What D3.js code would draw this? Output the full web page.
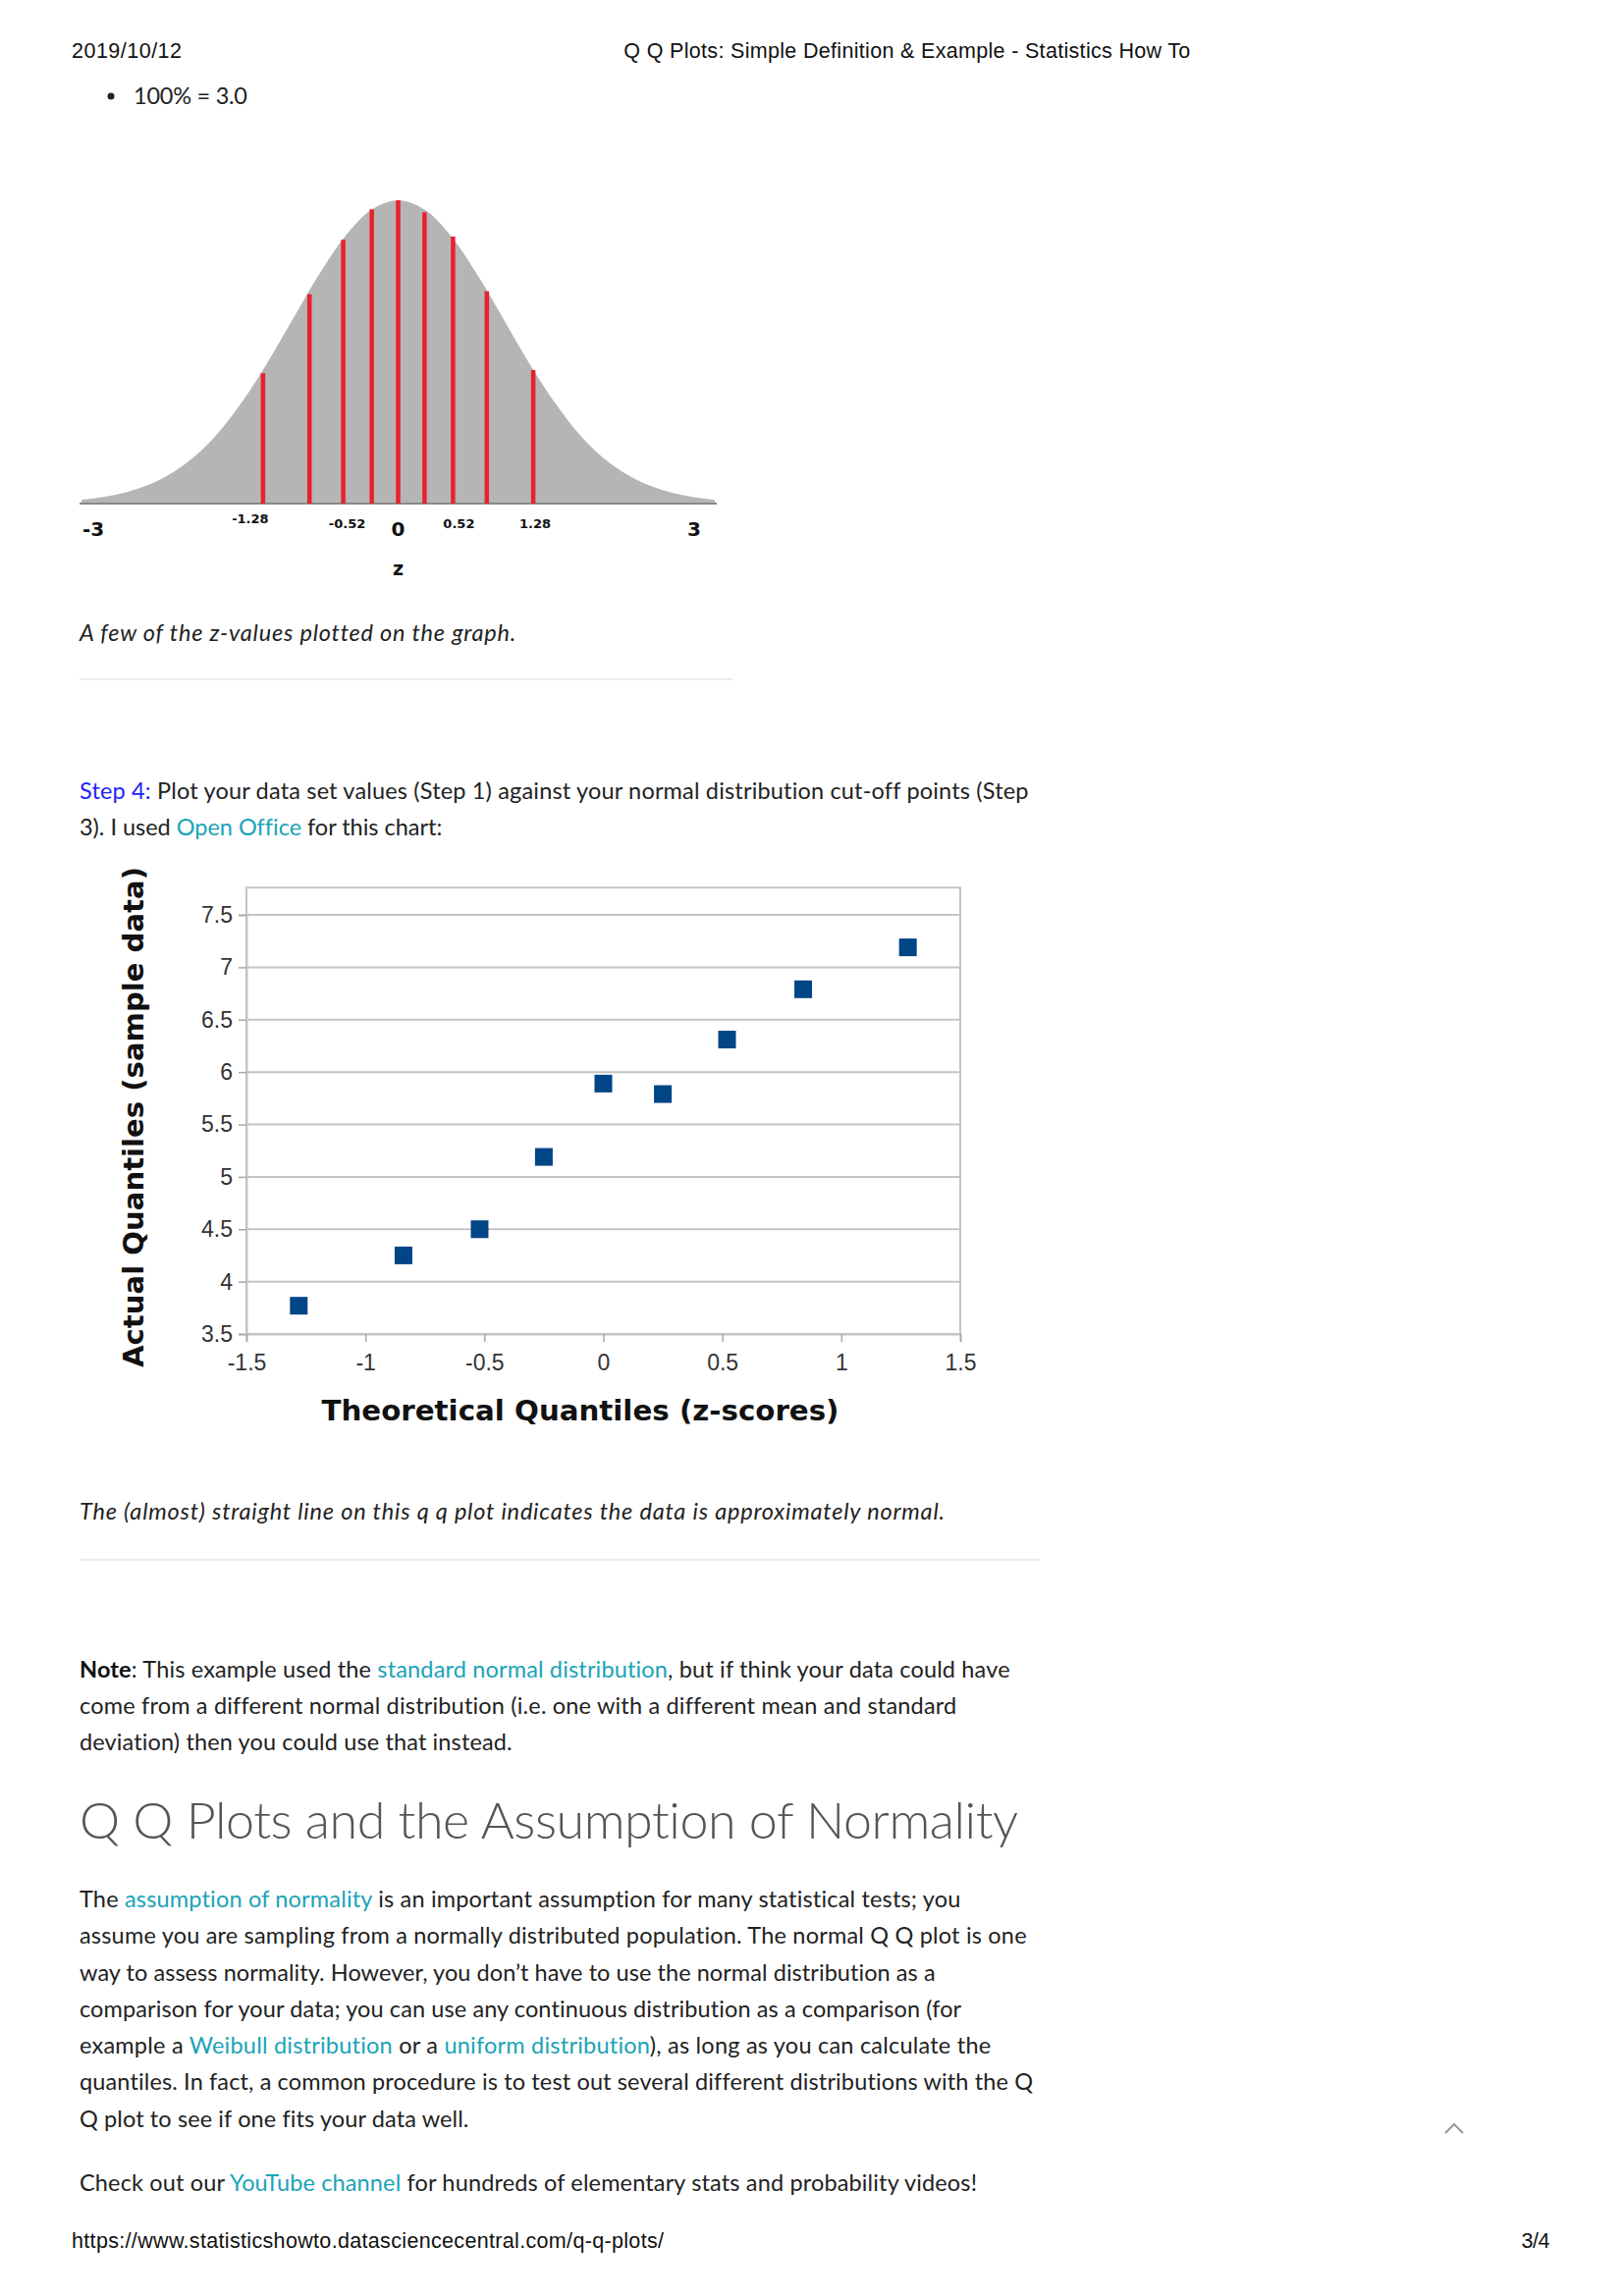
<!DOCTYPE html>
<html>
<head>
<meta charset="utf-8">
<title>Q Q Plots</title>
<script src="https://d3js.org/d3.v7.min.js"></script>
<style>
  body { margin: 0; background: #fff; }
  svg { display: block; }
</style>
</head>
<body>
<svg id="page"></svg>
<script>
// ---- bell curve (heights, peak = 1)
const curveZ = [-3, -2.75, -2.5, -2.25, -2, -1.75, -1.5, -1.25, -1, -0.75, -0.5, -0.25, 0,
                0.25, 0.5, 0.75, 1, 1.25, 1.5, 1.75, 2, 2.25, 2.5, 2.75, 3];
const curveHeight = [0.012, 0.024, 0.045, 0.08, 0.135, 0.215, 0.325, 0.458, 0.607, 0.755, 0.882, 0.969, 1,
                     0.969, 0.882, 0.755, 0.607, 0.458, 0.325, 0.215, 0.135, 0.08, 0.045, 0.024, 0.012];
const cutZ = [-1.28, -0.84, -0.52, -0.25, 0, 0.25, 0.52, 0.84, 1.28];
const cutHeight = [0.43, 0.69, 0.87, 0.97, 1, 0.96, 0.88, 0.70, 0.44];
const bigLabels = ["-3", "0", "3"];
const smallLabels = ["-1.28", "-0.52", "0.52", "1.28"];

// ---- q q plot
const qqZ = [-1.28, -0.84, -0.52, -0.25, 0, 0.25, 0.52, 0.84, 1.28];
const qqSample = [3.77, 4.25, 4.5, 5.19, 5.89, 5.79, 6.31, 6.79, 7.19];
const xTicks = [-1.5, -1, -0.5, 0, 0.5, 1, 1.5];
const yTicks = [3.5, 4, 4.5, 5, 5.5, 6, 6.5, 7, 7.5];
const yTop = 7.76;

const W = 1653, H = 2339;
const svg = d3.select("#page").attr("width", W).attr("height", H);
svg.append("rect").attr("width", W).attr("height", H).attr("fill", "#fff");

const LINK = "#1aa3b8", BODY = "#222";

// one line of text, stretched to the width seen in the picture
function textLine(x, y, parts, width, st) {
  const t = svg.append("text").attr("x", x).attr("y", y)
    .attr("text-anchor", st.anchor || "start")
    .style("font-family", st.font || "Lato")
    .style("font-size", (st.size || 23.5) + "px")
    .style("font-style", st.italic ? "italic" : null)
    .style("font-weight", st.weight || null)
    .attr("fill", st.color || BODY);
  parts.forEach(function(p) {
    if (typeof p === "string") p = [p];
    t.append("tspan").text(p[0]).attr("fill", p[1] || null).style("font-weight", p[2] || null);
  });
  if (width) {
    const n = t.text().length;
    const w = t.node().getComputedTextLength();
    t.style("letter-spacing", ((width - w) / (n - 1)) + "px");
  }
  return t;
}

// ---- header
textLine(73, 59, ["2019/10/12"], 112, {font: "Liberation Sans", size: 21.5, color: "#111"});
textLine(924, 59, ["Q Q Plots: Simple Definition & Example - Statistics How To"], 577,
  {font: "Liberation Sans", size: 21.5, color: "#111", anchor: "middle"});
svg.append("circle").attr("cx", 113).attr("cy", 98).attr("r", 3.5).attr("fill", BODY);
textLine(136, 106, ["100% = 3.0"], 116, {});

// ---- bell curve
const bx = d3.scaleLinear().domain([-3, 3]).range([83, 728]);
const by = d3.scaleLinear().domain([0, 1]).range([513, 204]);
const bell = svg.append("g");
bell.append("path")
  .datum(curveZ.map((z, i) => [z, curveHeight[i]]))
  .attr("fill", "#b5b5b5")
  .attr("d", d3.area().x(d => bx(d[0])).y0(by(0)).y1(d => by(d[1])).curve(d3.curveCatmullRom));
bell.append("line").attr("x1", bx(-3) - 2).attr("x2", bx(3) + 2).attr("y1", by(0)).attr("y2", by(0))
  .attr("stroke", "#8a8a8a").attr("stroke-width", 2);
bell.selectAll(".cut").data(cutZ).enter().append("line")
  .attr("x1", d => bx(d)).attr("x2", d => bx(d))
  .attr("y1", by(0)).attr("y2", (d, i) => by(cutHeight[i]))
  .attr("stroke", "#e8212b").attr("stroke-width", 4.5);
bell.selectAll(".big").data(bigLabels).enter().append("text")
  .attr("x", d => bx(+d) + (+d < 0 ? 12 : +d > 0 ? -21 : 0))
  .attr("y", 546)
  .attr("text-anchor", "middle")
  .style("font-family", "DejaVu Sans").style("font-weight", "bold").style("font-size", "20px")
  .attr("fill", "#111").text(d => d);
bell.selectAll(".small").data(smallLabels).enter().append("text")
  .attr("x", d => bx(+d) + (+d === -1.28 ? -13 : +d === -0.52 ? 4 : +d === 0.52 ? 6 : 2))
  .attr("y", d => +d === -1.28 ? 533 : 538)
  .attr("text-anchor", "middle")
  .style("font-family", "DejaVu Sans").style("font-weight", "bold").style("font-size", "13px")
  .attr("fill", "#111").text(d => d);
bell.append("text").attr("x", bx(0)).attr("y", 586).attr("text-anchor", "middle")
  .style("font-family", "DejaVu Sans").style("font-weight", "bold").style("font-size", "19px")
  .attr("fill", "#111").text("z");

textLine(81, 653, ["A few of the z-values plotted on the graph."], 443, {italic: true});
svg.append("line").attr("x1", 81).attr("x2", 746).attr("y1", 692).attr("y2", 692)
  .attr("stroke", "#ebebeb").attr("stroke-width", 2);

// ---- step 4
textLine(81, 814, [["Step 4:", "#1f1fff"], " Plot your data set values (Step 1) against your normal distribution cut-off points (Step"], 966, {});
textLine(81, 851, ["3). I used ", ["Open Office", LINK], " for this chart:"], 368, {});

// ---- q q plot
const sx = d3.scaleLinear().domain([-1.5, 1.5]).range([251, 978]);
const sy = d3.scaleLinear().domain([3.5, 7.5]).range([1359, 932]);
const GRID = "#c4c4c4";
const qq = svg.append("g");
qq.selectAll(".grid").data(yTicks).enter().append("line")
  .attr("x1", sx(-1.5)).attr("x2", sx(1.5)).attr("y1", d => sy(d)).attr("y2", d => sy(d))
  .attr("stroke", GRID).attr("stroke-width", 2);
qq.append("rect").attr("x", sx(-1.5)).attr("y", sy(yTop))
  .attr("width", sx(1.5) - sx(-1.5)).attr("height", sy(3.5) - sy(yTop))
  .attr("fill", "none").attr("stroke", GRID).attr("stroke-width", 2);

const yAxis = qq.append("g").attr("transform", "translate(" + sx(-1.5) + ",0)")
  .call(d3.axisLeft(sy).tickValues(yTicks).tickSize(8).tickPadding(6).tickFormat(d => String(d)));
const xAxis = qq.append("g").attr("transform", "translate(0," + sy(3.5) + ")")
  .call(d3.axisBottom(sx).tickValues(xTicks).tickSize(8).tickPadding(13).tickFormat(d => String(d)));
[yAxis, xAxis].forEach(function(a) {
  a.select(".domain").attr("stroke", GRID).attr("stroke-width", 2);
  a.selectAll(".tick line").attr("stroke", "#a8a8a8").attr("stroke-width", 1.5);
  a.selectAll(".tick text").style("font-family", "Liberation Sans").style("font-size", "23px").attr("fill", "#333");
});

qq.selectAll(".pt").data(qqZ).enter().append("rect")
  .attr("x", d => sx(d) - 9).attr("y", (d, i) => sy(qqSample[i]) - 9)
  .attr("width", 18).attr("height", 18).attr("fill", "#004586");

qq.append("text").attr("x", 591).attr("y", 1447).attr("text-anchor", "middle")
  .attr("textLength", 527).attr("lengthAdjust", "spacingAndGlyphs")
  .style("font-family", "DejaVu Sans").style("font-weight", "bold").style("font-size", "28px")
  .attr("fill", "#111").text("Theoretical Quantiles (z-scores)");
qq.append("text").attr("transform", "translate(146,1138) rotate(-90)").attr("text-anchor", "middle")
  .attr("textLength", 510).attr("lengthAdjust", "spacingAndGlyphs")
  .style("font-family", "DejaVu Sans").style("font-weight", "bold").style("font-size", "28px")
  .attr("fill", "#111").text("Actual Quantiles (sample data)");

textLine(81, 1548, ["The (almost) straight line on this q q plot indicates the data is approximately normal."], 881, {italic: true});
svg.append("line").attr("x1", 81).attr("x2", 1059).attr("y1", 1589).attr("y2", 1589)
  .attr("stroke", "#ebebeb").attr("stroke-width", 2);

// ---- note
textLine(81, 1709, [["Note", "#111", "bold"], ": This example used the ", ["standard normal distribution", LINK], ", but if think your data could have"], 948, {});
textLine(81, 1746, ["come from a different normal distribution (i.e. one with a different mean and standard"], 892, {});
textLine(81, 1783, ["deviation) then you could use that instead."], 441, {});

// ---- heading
textLine(81, 1873, ["Q Q Plots and the Assumption of Normality"], 957,
  {size: 52, weight: 300, color: "#555"});

// ---- paragraph
const paraY = [1943, 1980, 2018, 2055, 2092, 2129, 2167];
textLine(81, paraY[0], ["The ", ["assumption of normality", LINK], " is an important assumption for many statistical tests; you"], 899, {});
textLine(81, paraY[1], ["assume you are sampling from a normally distributed population. The normal Q Q plot is one"], 965, {});
textLine(81, paraY[2], ["way to assess normality. However, you don\u2019t have to use the normal distribution as a"], 872, {});
textLine(81, paraY[3], ["comparison for your data; you can use any continuous distribution as a comparison (for"], 899, {});
textLine(81, paraY[4], ["example a ", ["Weibull distribution", LINK], " or a ", ["uniform distribution", LINK], "), as long as you can calculate the"], 929, {});
textLine(81, paraY[5], ["quantiles. In fact, a common procedure is to test out several different distributions with the Q"], 971, {});
textLine(81, paraY[6], ["Q plot to see if one fits your data well."], 396, {});

textLine(81, 2232, ["Check out our ", ["YouTube channel", LINK], " for hundreds of elementary stats and probability videos!"], 914, {});

// scroll-up chevron
svg.append("polyline").attr("points", "1472,2173 1481,2164 1490,2173")
  .attr("fill", "none").attr("stroke", "#999").attr("stroke-width", 2);

// ---- footer
textLine(73, 2290, ["https://www.statisticshowto.datasciencecentral.com/q-q-plots/"], 603, {font: "Liberation Sans", size: 21.5, color: "#111"});
textLine(1578, 2290, ["3/4"], 29, {font: "Liberation Sans", size: 21.5, color: "#111", anchor: "end"});
</script>
</body>
</html>
